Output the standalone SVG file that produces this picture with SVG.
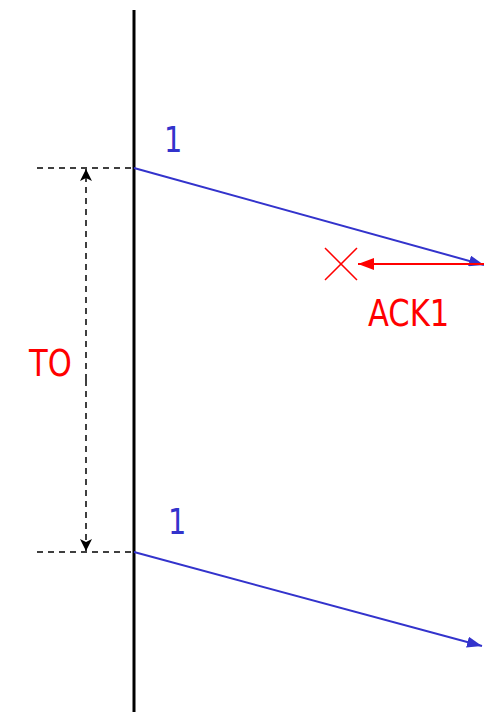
<svg xmlns="http://www.w3.org/2000/svg" width="484" height="726" viewBox="0 0 484 726">
<style>
.lbl{font-family:"DejaVu Sans Condensed","DejaVu Sans",sans-serif;font-size:34px}
.one{font-size:32px}
.blue{fill:#3333cc}
.red{fill:#ff0000}
.dash{stroke:#000;stroke-width:1.5;stroke-dasharray:6,5;fill:none}
.msg{stroke:#3333cc;stroke-width:2;fill:none}
</style>
<defs>
<marker id="ab" viewBox="0 0 15 11" refX="15" refY="5.5" markerWidth="15" markerHeight="11" markerUnits="userSpaceOnUse" orient="auto">
<path d="M0,0 L15,5.5 L0,11 z" fill="#3333cc"/>
</marker>
<marker id="ar" viewBox="0 0 16 12" refX="16" refY="6" markerWidth="16" markerHeight="12" markerUnits="userSpaceOnUse" orient="auto">
<path d="M0,0 L16,6 L0,12 z" fill="#ff0000"/>
</marker>
<marker id="ak" viewBox="0 0 12 12" refX="12" refY="6" markerWidth="12" markerHeight="12" markerUnits="userSpaceOnUse" orient="auto">
<path d="M0,0 L12,6 L0,12 L3,6 z" fill="#000"/>
</marker>
</defs>
<g id="timeline">
<line x1="134" y1="10" x2="134" y2="712" stroke="#000" stroke-width="3"/>
</g>
<g id="connectors">
<line class="dash" x1="37" y1="168" x2="134" y2="168"/>
<line class="dash" x1="37" y1="552" x2="134" y2="552"/>
<line class="dash" x1="86" y1="380" x2="86" y2="169" marker-end="url(#ak)"/>
<line class="dash" x1="86" y1="380" x2="86" y2="551" marker-end="url(#ak)"/>
<line class="msg" x1="134" y1="168" x2="484" y2="265" marker-end="url(#ab)"/>
<line class="msg" x1="134" y1="552" x2="482" y2="646" marker-end="url(#ab)"/>
<line x1="484" y1="264" x2="358" y2="264" stroke="#ff0000" stroke-width="2" marker-end="url(#ar)"/>
</g>
<g id="lost">
<line x1="325" y1="248" x2="357" y2="280" stroke="#ff0000" stroke-width="1.5"/>
<line x1="357" y1="248" x2="325" y2="280" stroke="#ff0000" stroke-width="1.5"/>
</g>
<g id="labels">
<text class="lbl one blue" transform="translate(164,152) scale(1,1.1)">1</text>
<text class="lbl one blue" transform="translate(168,534) scale(1,1.1)">1</text>
<text class="lbl red" transform="translate(368,326) scale(1,1.12)">ACK1</text>
<text class="lbl red" transform="translate(29,376) scale(1,1.12)">TO</text>
</g>
</svg>
